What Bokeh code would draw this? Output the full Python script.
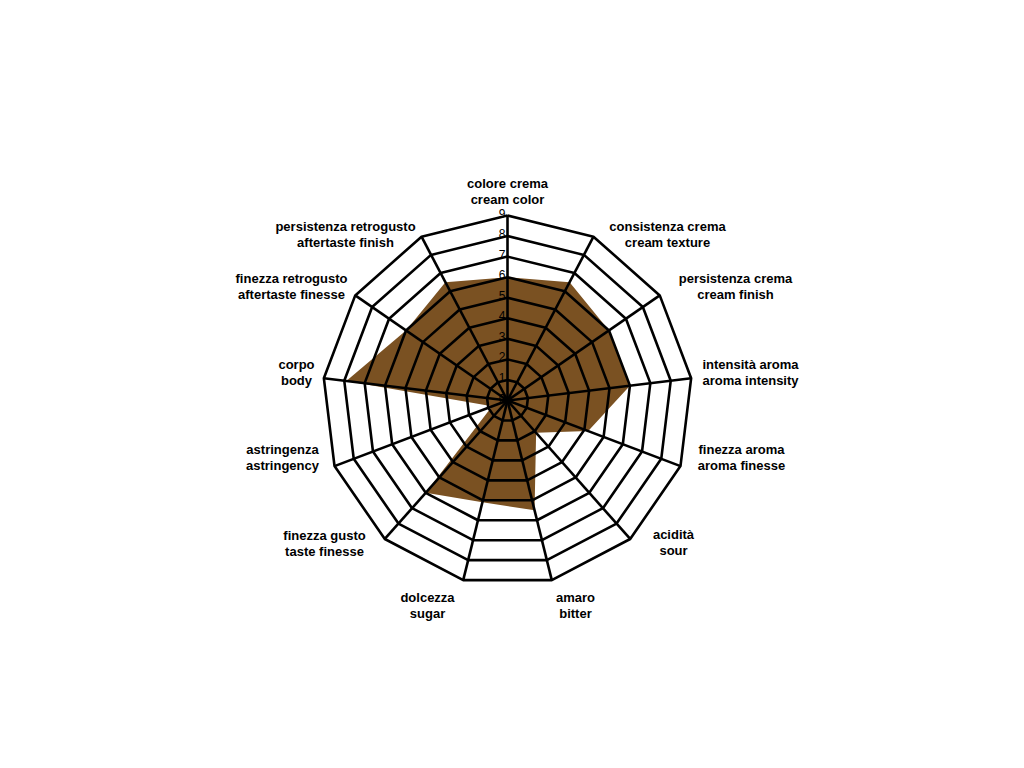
import numpy as np
from bokeh.plotting import figure
from bokeh.models import ColumnDataSource
from bokeh.embed import file_html
from bokeh.resources import INLINE
from bokeh.core.properties import value

# ---- data ----
labels_it = ["colore crema", "consistenza crema", "persistenza crema", "intensità aroma",
             "finezza aroma", "acidità", "amaro", "dolcezza", "finezza gusto",
             "astringenza", "corpo", "finezza retrogusto", "persistenza retrogusto"]
labels_en = ["cream color", "cream texture", "cream finish", "aroma intensity",
             "aroma finesse", "sour", "bitter", "sugar", "taste finesse",
             "astringency", "body", "aftertaste finesse", "aftertaste finish"]
scores = [6, 6.5, 6, 6, 4.2, 2.1, 5.5, 5.1, 6, 0.8, 7.9, 6, 6.5]
tick_values = [0, 1, 2, 3, 4, 5, 6, 7, 8, 9]
scale_max = 9

# ---- layout (pixels) ----
W, H = 1008, 752
PX = 185 / scale_max          # pixels per unit
cx, cy = 507, 400             # chart centre within the figure (pixels)
# label block centres, offset in screen pixels from the chart centre
label_dx = [0, 160, 228, 243, 234, 166, 68, -80, -183, -225, -211, -216, -162]
label_dy = [-209, -166, -114, -28, 57, 142, 205, 205, 143, 57, -28, -114, -166]

p = figure(width=W, height=H, output_backend="svg", toolbar_location=None,
           x_range=(-cx / PX, (W - cx) / PX), y_range=(-(H - cy) / PX, cy / PX),
           x_axis_type=None, y_axis_type=None, min_border=0)
p.grid.visible = False
p.outline_line_color = None
p.background_fill_color = "white"
p.border_fill_color = "white"

n = len(labels_it)
ang = np.arange(n) * 2 * np.pi / n
sx, sy = np.sin(ang), np.cos(ang)

# filled series
sc = np.array(scores, dtype=float)
p.patch(list(sc * sx), list(sc * sy), fill_color="#7A5122", line_color=None)

# rings
xs, ys = [], []
for v in tick_values[1:]:
    xs.append(list(np.append(v * sx, v * sx[0])))
    ys.append(list(np.append(v * sy, v * sy[0])))
p.multi_line(xs, ys, line_color="black", line_width=2.6)

# spokes
p.segment(x0=[0] * n, y0=[0] * n, x1=list(scale_max * sx), y1=list(scale_max * sy),
          line_color="black", line_width=2.6)

# tick labels
p.text(x=[0] * len(tick_values), y=tick_values, text=[str(t) for t in tick_values],
       text_align="right", text_baseline="bottom", x_offset=-2, y_offset=2,
       text_font=value("Liberation Sans"), text_font_size="12px", text_color="black")

# category labels
src = ColumnDataSource(dict(
    x=[0] * n, y=[0] * n,
    t=[f"{a}\n{b}" for a, b in zip(labels_it, labels_en)],
    xo=label_dx, yo=label_dy))
p.text(x="x", y="y", text="t", source=src, text_align="center", text_baseline="middle",
       x_offset="xo", y_offset="yo", text_font=value("Liberation Sans"),
       text_font_style="bold", text_font_size="13px", text_color="black",
       text_line_height=1.05)

open("out.html", "w").write(file_html(p, INLINE))
